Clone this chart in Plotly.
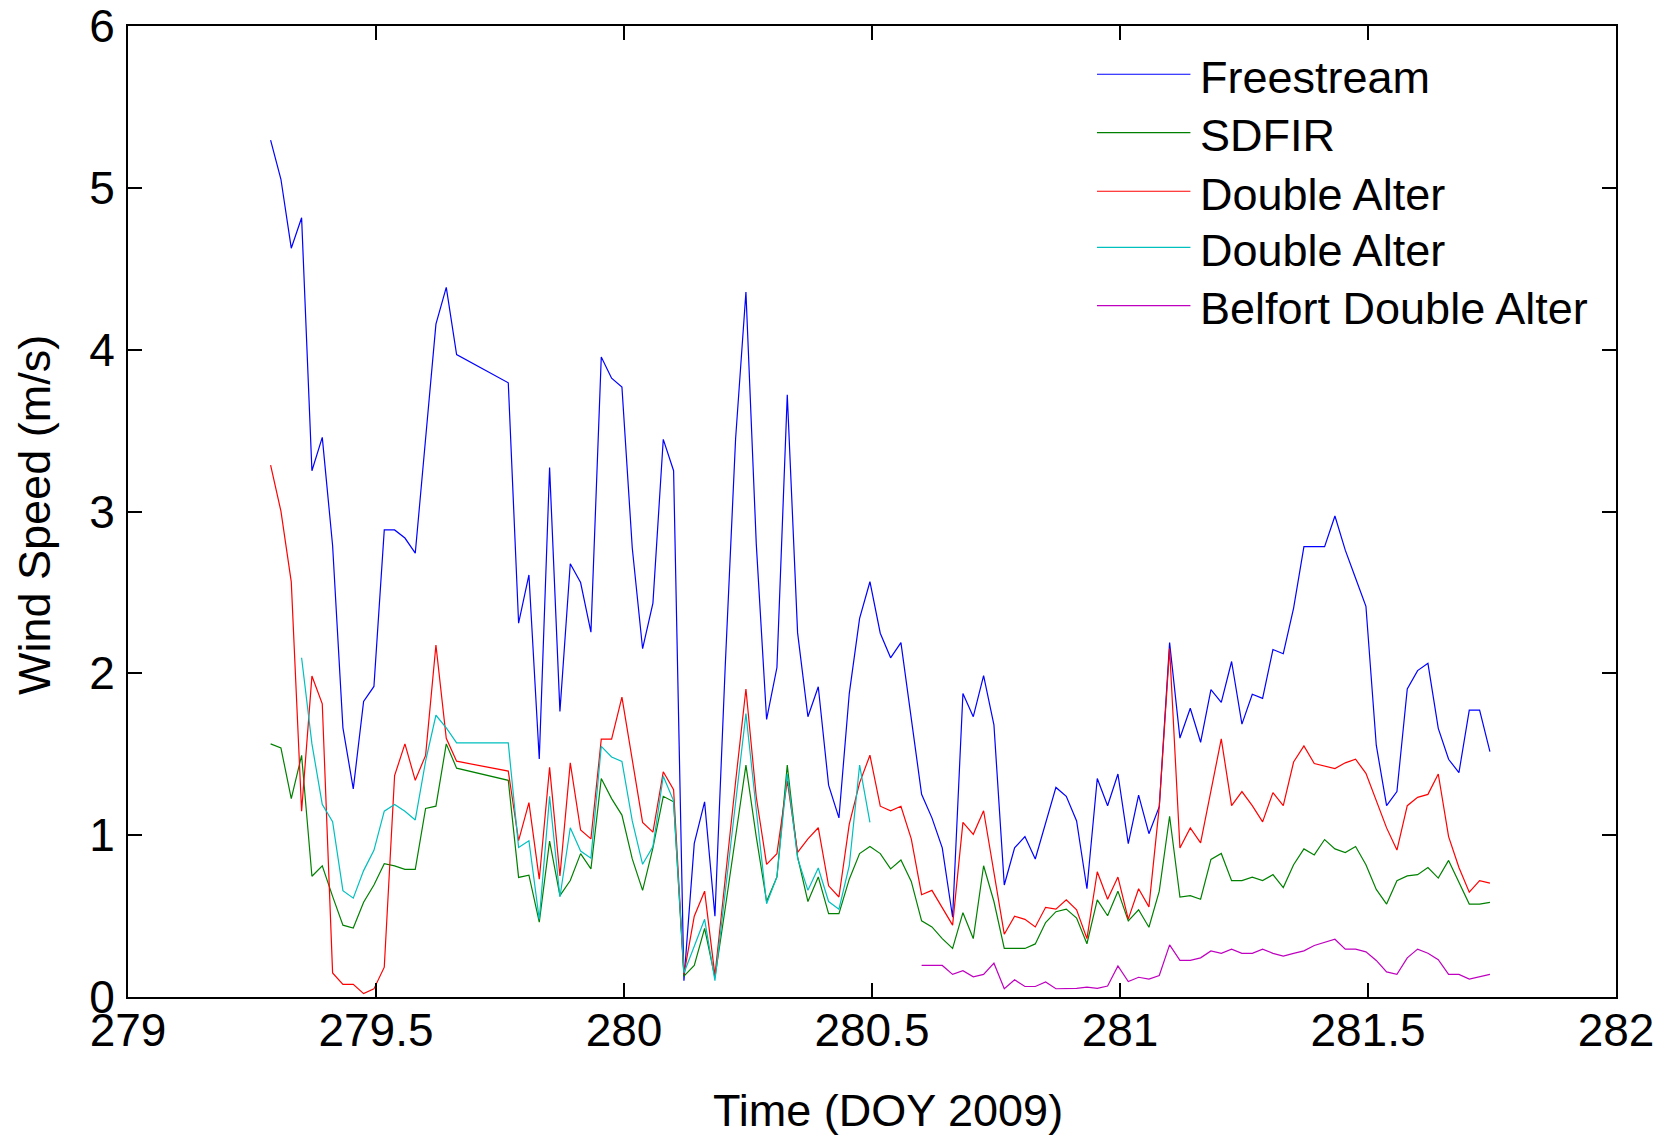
import plotly.graph_objects as go

# Half-hourly samples, day-of-year 2009 (None = no data for that slot)
T0 = 279.2875
STEP = 1.0 / 48.0

freestream = [
    5.295, 5.053, 4.627, 4.815, 3.252, 3.458, 2.79, 1.663, 1.286, 1.826,
    1.919, 2.886, 2.886, 2.836, 2.743, 3.447, 4.158, 4.385, 3.970, None,
    None, None, None, 3.795, 2.310, 2.608, 1.471, 3.271, 1.765, 2.677,
    2.561, 2.254, 3.954, 3.824, 3.769, 2.774, 2.152, 2.434, 3.446, 3.252,
    0.101, 0.949, 1.206, 0.499, 2.05, 3.45, 4.356, 2.80, 1.715, 2.036,
    3.722, 2.25, 1.732, 1.917, 1.309, 1.107, 1.875, 2.340, 2.566, 2.248,
    2.096, 2.190, 1.723, 1.253, 1.107, 0.922, 0.493, 1.875, 1.732, 1.986,
    1.682, 0.692, 0.922, 0.991, 0.853, 1.079, 1.295, 1.240, 1.088, 0.669,
    1.350, 1.182, 1.378, 0.948, 1.247, 1.009, 1.176, 2.190, 1.600, 1.784,
    1.574, 1.899, 1.821, 2.073, 1.686, 1.871, 1.845, 2.147, 2.121, 2.403,
    2.783, 2.783, 2.783, 2.972, 2.761, 2.588, 2.414, 1.556, 1.182, 1.269,
    1.904, 2.017, 2.062, 1.660, 1.469, 1.386, 1.773, 1.773, 1.516,
]

sdfir = [
    1.564, 1.539, 1.226, 1.493, 0.746, 0.810, 0.622, 0.444, 0.426, 0.586,
    0.692, 0.824, 0.810, 0.789, 0.789, 1.165, 1.179, 1.564, 1.414, None,
    None, None, None, 1.339, 0.739, 0.753, 0.462, 0.963, 0.626, 0.720,
    0.886, 0.792, 1.350, 1.226, 1.124, 0.853, 0.659, 0.922, 1.240, 1.206,
    0.129, 0.195, 0.424, 0.121, 0.55, 1.0, 1.433, 0.990, 0.590, 0.742,
    1.433, 0.866, 0.590, 0.742, 0.515, 0.515, 0.728, 0.886, 0.930, 0.886,
    0.792, 0.847, 0.714, 0.471, 0.433, 0.361, 0.300, 0.521, 0.361, 0.811,
    0.590, 0.300, 0.300, 0.300, 0.328, 0.460, 0.527, 0.543, 0.488, 0.329,
    0.600, 0.502, 0.654, 0.470, 0.539, 0.431, 0.654, 1.117, 0.617, 0.626,
    0.604, 0.850, 0.887, 0.719, 0.719, 0.741, 0.719, 0.756, 0.676, 0.817,
    0.915, 0.878, 0.973, 0.915, 0.893, 0.930, 0.817, 0.665, 0.574, 0.719,
    0.748, 0.756, 0.800, 0.735, 0.844, 0.709, 0.574, 0.574, 0.585,
]

double_alter_a = [
    3.287, 3.002, 2.565, 1.148, 1.983, 1.812, 0.149, 0.078, 0.078, 0.021,
    0.050, 0.184, 1.368, 1.564, 1.339, 1.493, 2.175, 1.599, 1.457, None,
    None, None, None, 1.396, 0.966, 1.201, 0.728, 1.419, 0.748, 1.447,
    1.032, 0.977, 1.593, 1.593, 1.853, 1.461, 1.079, 1.019, 1.392, 1.281,
    0.140, 0.499, 0.654, 0.134, 0.75, 1.33, 1.903, 1.236, 0.820, 0.886,
    1.336, 0.894, 0.977, 1.046, 0.687, 0.618, 1.068, 1.323, 1.494, 1.179,
    1.151, 1.179, 0.977, 0.632, 0.659, 0.549, 0.444, 1.079, 1.005, 1.151,
    0.770, 0.388, 0.499, 0.480, 0.433, 0.554, 0.543, 0.600, 0.539, 0.361,
    0.774, 0.604, 0.741, 0.481, 0.669, 0.557, 1.176, 2.153, 0.921, 1.045,
    0.952, 1.273, 1.595, 1.182, 1.269, 1.182, 1.082, 1.263, 1.182, 1.452,
    1.551, 1.443, 1.426, 1.412, 1.447, 1.469, 1.382, 1.208, 1.045, 0.908,
    1.182, 1.234, 1.252, 1.378, 0.991, 0.800, 0.648, 0.719, 0.704,
]

double_alter_b = [
    None, None, None, 2.096, 1.564, 1.190, 1.083, 0.657, 0.611, 0.781,
    0.906, 1.148, 1.190, 1.148, 1.094, 1.457, 1.741, 1.663, 1.570, None,
    None, None, None, 1.570, 0.924, 0.966, 0.480, 1.240, 0.618, 1.046,
    0.902, 0.858, 1.549, 1.483, 1.456, 1.088, 0.820, 0.930, 1.364, 1.212,
    0.148, 0.314, 0.480, 0.101, 0.66, 1.22, 1.751, 1.157, 0.576, 0.742,
    1.378, 0.858, 0.659, 0.797, 0.590, 0.543, 0.811, 1.433, 1.079,
]

belfort_double_alter = [None] * 63 + [
    0.195, 0.195, 0.195, 0.140, 0.162, 0.125, 0.140, 0.209, 0.051, 0.106,
    0.065, 0.065, 0.093, 0.051, 0.053, 0.053, 0.061, 0.053, 0.068, 0.192,
    0.096, 0.122, 0.111, 0.133, 0.322, 0.226, 0.226, 0.242, 0.285, 0.270,
    0.296, 0.270, 0.270, 0.296, 0.270, 0.253, 0.270, 0.285, 0.318, 0.339,
    0.357, 0.296, 0.296, 0.279, 0.226, 0.155, 0.140, 0.242, 0.296, 0.270,
    0.231, 0.140, 0.140, 0.111, 0.127, 0.140,
]

series_names = ["Freestream", "SDFIR", "Double Alter", "Double Alter",
                "Belfort Double Alter"]
series_values = [freestream, sdfir, double_alter_a, double_alter_b,
                 belfort_double_alter]
series_colors = ["#0000FF", "#008000", "#FF0000", "#00BFBF", "#BF00BF"]

x_ticks = [279, 279.5, 280, 280.5, 281, 281.5, 282]
x_tick_labels = ["279", "279.5", "280", "280.5", "281", "281.5", "282"]
y_ticks = [0, 1, 2, 3, 4, 5, 6]

FONT = "Arial, Liberation Sans, sans-serif"
W, H = 1659, 1135
ML, MR, MT, MB = 128, 43, 26, 138

fig = go.Figure()
for name, vals, col in zip(series_names, series_values, series_colors):
    t = [T0 + i * STEP for i in range(len(vals))]
    fig.add_trace(go.Scatter(
        x=t, y=vals, name=name, mode="lines", connectgaps=True,
        line=dict(color=col, width=1.2), showlegend=False,
    ))

axis_common = dict(
    showline=True, linecolor="black", linewidth=2, mirror="ticks",
    ticks="inside", ticklen=14, tickwidth=1.5, tickcolor="black",
    showgrid=False, zeroline=False, automargin=False,
    tickfont=dict(family=FONT, size=46, color="black"),
)

fig.update_layout(
    width=W, height=H,
    margin=dict(l=ML, r=MR, t=MT, b=MB),
    paper_bgcolor="white", plot_bgcolor="white",
    font=dict(family=FONT, color="black"),
    xaxis=dict(range=[279, 282], tickvals=x_ticks, ticktext=x_tick_labels,
               ticklabelstandoff=-8, **axis_common),
    yaxis=dict(range=[0, 6], tickvals=y_ticks, ticklabelstandoff=2,
               **axis_common),
)

# Axis titles
fig.add_annotation(text="Time (DOY 2009)", xref="paper", yref="paper",
                   x=0.5108, y=-0.1174, xanchor="center", yanchor="middle",
                   showarrow=False, font=dict(family=FONT, size=45))
fig.add_annotation(text="Wind Speed (m/s)", xref="paper", yref="paper",
                   x=-0.0625, y=0.4964, xanchor="center", yanchor="middle",
                   textangle=-90, showarrow=False,
                   font=dict(family=FONT, size=45))

# Legend box (no frame): line sample + label per series
legend_rows = [0.9503, 0.8901, 0.8298, 0.7721, 0.7120]
for name, col, ly in zip(series_names, series_colors, legend_rows):
    fig.add_shape(type="line", xref="paper", yref="paper",
                  x0=0.6512, x1=0.714, y0=ly, y1=ly,
                  line=dict(color=col, width=1.2))
    fig.add_annotation(text=name, xref="paper", yref="paper",
                       x=0.7190, y=ly - 0.003, xanchor="left",
                       yanchor="middle", showarrow=False,
                       font=dict(family=FONT, size=45))

fig.write_html("out.html")
